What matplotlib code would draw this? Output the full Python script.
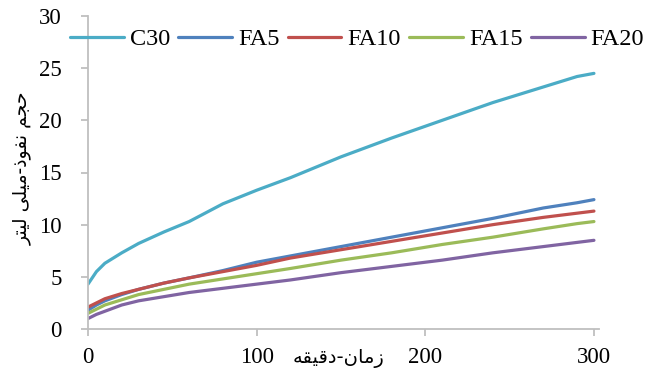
import matplotlib
matplotlib.use("Agg")
import matplotlib.pyplot as plt

# Cumulative penetration volume (ml) against time (min)
time_min = [0, 5, 10, 20, 30, 45, 60, 80, 100, 120, 150, 180, 210, 240, 270, 290, 300]
c30 = [4.3, 5.5, 6.3, 7.3, 8.2, 9.3, 10.3, 12.0, 13.3, 14.5, 16.5, 18.3, 20.0, 21.7, 23.2, 24.2, 24.5]
fa5 = [1.8, 2.3, 2.7, 3.3, 3.8, 4.4, 4.9, 5.6, 6.4, 7.0, 7.9, 8.8, 9.7, 10.6, 11.6, 12.1, 12.4]
fa10 = [2.1, 2.5, 2.9, 3.4, 3.8, 4.4, 4.9, 5.5, 6.1, 6.8, 7.6, 8.4, 9.2, 10.0, 10.7, 11.1, 11.3]
fa15 = [1.5, 1.9, 2.3, 2.8, 3.3, 3.8, 4.3, 4.8, 5.3, 5.8, 6.6, 7.3, 8.1, 8.8, 9.6, 10.1, 10.3]
fa20 = [1.0, 1.4, 1.7, 2.3, 2.7, 3.1, 3.5, 3.9, 4.3, 4.7, 5.4, 6.0, 6.6, 7.3, 7.9, 8.3, 8.5]

series_names = ["C30", "FA5", "FA10", "FA15", "FA20"]
series_values = [c30, fa5, fa10, fa15, fa20]
colours = ["#4BACC6", "#4F81BD", "#C0504D", "#9BBB59", "#8064A2"]

x_ticks = [0, 100, 200, 300]
y_ticks = [0, 5, 10, 15, 20, 25, 30]

# Persian labels, pre-shaped (presentation forms, visual order) since
# matplotlib does no Arabic-script shaping on its own.
# logical: "حجم نفوذ-میلی لیتر"
y_label = ("\uFEAE\uFE98\uFEF4\uFEDF" + " " + "\uFEF0\uFEE0\uFEF4\uFEE3" + "-"
           + "\uFEAB\uFEEE\uFED4\uFEE7" + " " + "\uFEE2\uFEA0\uFEA3")
# logical: "زمان-دقیقه"
x_label = "\uFEEA\uFED8\uFEF4\uFED7\uFEA9" + "-" + "\uFEE5\uFE8E\uFEE3\uFEAF"

AXIS_GREY = "#BFBFBF"
SERIF = ["Liberation Serif", "DejaVu Serif"]

fig = plt.figure(figsize=(6.48, 3.74), dpi=100)
ax = fig.add_axes([88 / 648, 1 - 329 / 374, 511 / 648, 313 / 374])

for name, vals, colour in zip(series_names, series_values, colours):
    ax.plot(time_min, vals, color=colour, linewidth=2.3, label=name,
            solid_capstyle="round")

ax.set_xlim(0, 303)
ax.set_ylim(0, 30)
ax.set_xticks(x_ticks)
ax.set_yticks(y_ticks)

for side in ("top", "right"):
    ax.spines[side].set_visible(False)
for side in ("left", "bottom"):
    ax.spines[side].set_color(AXIS_GREY)
    ax.spines[side].set_linewidth(1.3)

ax.tick_params(axis="both", direction="out", length=5, width=1.3,
               color=AXIS_GREY, labelsize=16.5)
ax.tick_params(axis="y", pad=14)
ax.tick_params(axis="x", pad=8)
for lbl in ax.get_xticklabels() + ax.get_yticklabels():
    lbl.set_fontfamily(SERIF)

ax.set_xlabel(x_label, fontsize=14, family=["DejaVu Sans"], va="center")
ax.xaxis.set_label_coords(0.49, -0.095)
ax.set_ylabel(y_label, fontsize=13.5, family=["DejaVu Sans"], va="center")
ax.yaxis.set_label_coords(-0.129, 0.514)

leg = ax.legend(loc="center left", bbox_to_anchor=(-0.035, 0.925), ncol=5,
                frameon=False, prop={"family": SERIF, "size": 17.5},
                handlelength=2.2, handletextpad=0.25, columnspacing=0.35,
                borderaxespad=0, borderpad=0)

fig.savefig("out.png", dpi=100)
